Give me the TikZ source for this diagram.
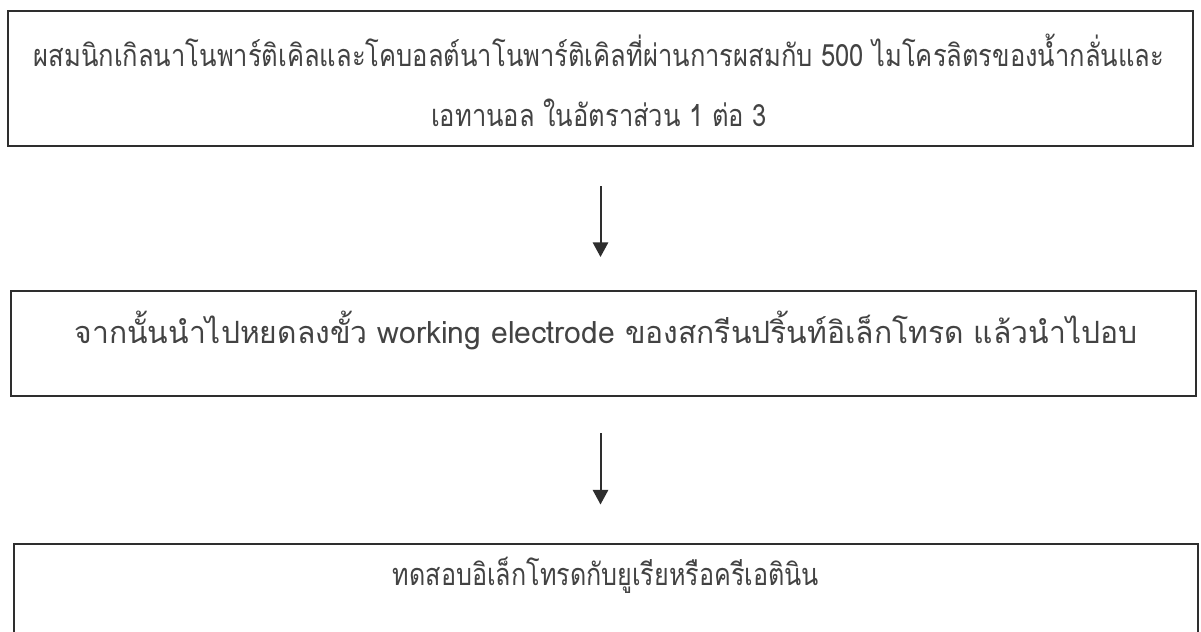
\documentclass[tikz,border=0pt]{standalone}
\usepackage{fontspec}
\usepackage{graphicx}
\usetikzlibrary{arrows.meta}
\newfontfamily\thaifont[Script=Thai]{Loma}
\definecolor{ink}{HTML}{2E2E2E}
\newcommand\hsq[2]{\scalebox{#1}[1]{#2}}
\begin{document}
\begin{tikzpicture}[x=0.75pt,y=-0.75pt,
  box/.style={draw=ink,line width=1.5pt,rectangle,inner sep=0pt},
  txt/.style={font=\thaifont\fontsize{23}{45}\selectfont,text=ink!90,align=center,inner sep=0pt},
  arr/.style={-{Triangle[length=11pt,width=11.5pt]},line width=1.5pt,draw=ink}]
\useasboundingbox (0,0) rectangle (1201,631);
\fill[white] (0,0) rectangle (1201,631);
\node[box,minimum width=888.75pt,minimum height=101.25pt] (b1) at (600.5,78.5) {};
\node[box,minimum width=888.75pt,minimum height=78.75pt] (b2) at (603.5,343.5) {};
\node[box,minimum width=888pt,minimum height=67.5pt] (b3) at (606,588.5) {};
\node[txt] (t1) at (599,80) {\hsq{0.833}{ผสมนิกเกิลนาโนพาร์ติเคิลและโคบอลต์นาโนพาร์ติเคิลที่ผ่านการผสมกับ 500 ไมโครลิตรของน้ำกลั่นและ}\\\hsq{0.833}{เอทานอล ในอัตราส่วน 1 ต่อ 3}};
\node[txt] (t2) at (606,330) {\hsq{0.98}{จากนั้นนำไปหยดลงขั้ว working electrode ของสกรีนปริ้นท์อิเล็กโทรด แล้วนำไปอบ}};
\node[txt] (t3) at (606,575) {\hsq{0.82}{ทดสอบอิเล็กโทรดกับยูเรียหรือครีเอตินิน}};
\draw[arr,shorten <=29.25pt,shorten >=24.75pt] (b1.south) -- (b1.south |- b2.north);
\draw[arr,shorten <=27pt,shorten >=28.5pt] (b1.south |- b2.south) -- (b1.south |- b3.north);
\end{tikzpicture}
\end{document}
